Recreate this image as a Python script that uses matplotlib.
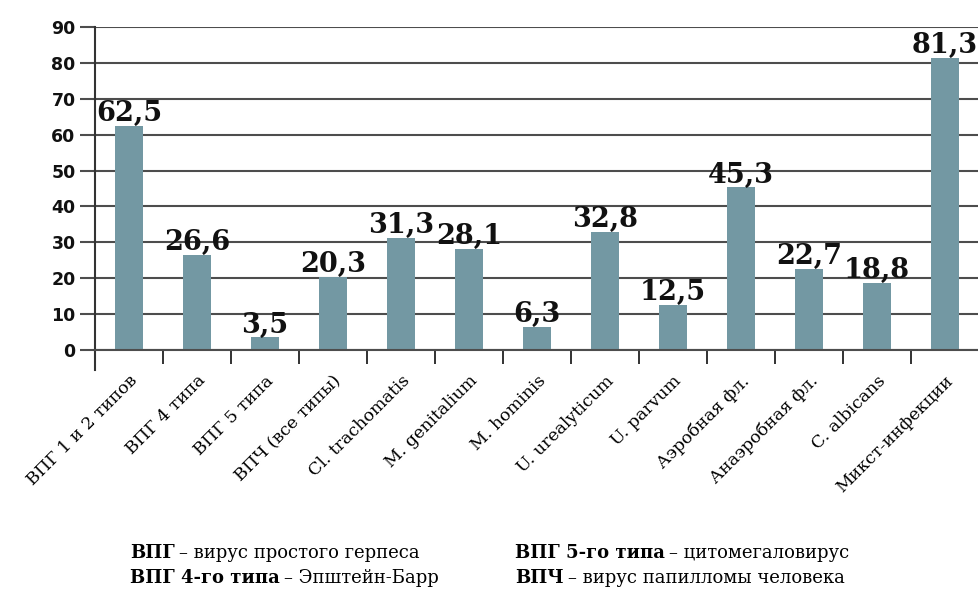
import matplotlib
matplotlib.use("Agg")
import matplotlib.pyplot as plt
import numpy as np

categories = ["ВПГ 1 и 2 типов", "ВПГ 4 типа", "ВПГ 5 типа", "ВПЧ (все типы)",
              "Cl. trachomatis", "M. genitalium", "M. hominis", "U. urealyticum",
              "U. parvum", "Аэробная фл.", "Анаэробная фл.", "C. albicans",
              "Микст-инфекции"]
values = [62.5, 26.6, 3.5, 20.3, 31.3, 28.1, 6.3, 32.8, 12.5, 45.3, 22.7, 18.8, 81.3]
yticks = [0, 10, 20, 30, 40, 50, 60, 70, 80, 90]
footnotes = [
    ("ВПГ", "– вирус простого герпеса"),
    ("ВПГ 4-го типа", "– Эпштейн-Барр"),
    ("ВПГ 5-го типа", "– цитомегаловирус"),
    ("ВПЧ", "– вирус папилломы человека"),
]

fig = plt.figure(figsize=(9.79, 5.92), dpi=100)
ax = fig.add_axes([95/979, 1-350/592, 1-95/979, (350-27)/592])

x = np.arange(len(categories))
bar_color = "#7398a3"
grid_color = "#4d4d4d"
ax.bar(x, values, width=0.41, color=bar_color, zorder=3)

for xi, v in zip(x, values):
    ax.text(xi, v - 0.3, f"{v:.1f}".replace(".", ","), ha="center", va="bottom",
            family="DejaVu Serif", fontweight="bold", fontsize=19.5, color="#111111",
            zorder=4, clip_on=False)

ax.set_xlim(-0.5, len(categories) - 0.5)
ax.set_ylim(0, 90)
ax.set_yticks(yticks)
ax.set_yticklabels([str(t) for t in yticks], family="DejaVu Sans", fontweight="bold",
                   fontsize=12.5, color="#111111")
ax.yaxis.grid(True, color=grid_color, linewidth=1.5, zorder=0)
ax.tick_params(axis="y", length=11, width=1.5, color=grid_color, pad=3)

ax.set_xticks(x)
ax.set_xticklabels(categories, rotation=45, ha="right", rotation_mode="anchor",
                   family="DejaVu Serif", fontsize=12.5)
ax.tick_params(axis="x", which="major", length=0, pad=16)
ax.set_xticks(x[:-1] + 0.5, minor=True)
ax.tick_params(axis="x", which="minor", length=10, width=1.3, color="#222222",
               direction="out")

for s in ["top", "right"]:
    ax.spines[s].set_visible(False)
ax.spines["bottom"].set_color(grid_color)
ax.spines["bottom"].set_linewidth(1.5)
ax.spines["bottom"].set_zorder(5)
ax.spines["left"].set_color("#333333")
ax.spines["left"].set_linewidth(1.5)
ax.plot([0, 0], [0, -20/323], transform=ax.transAxes, clip_on=False,
        color="#333333", linewidth=1.5)

positions = [(130, 558), (130, 583), (515, 558), (515, 583)]
for (bold, rest), (px, py) in zip(footnotes, positions):
    t = fig.text(px/979, 1-py/592, bold, family="DejaVu Serif",
                 fontweight="bold", fontsize=13, va="baseline", ha="left")
    ax.annotate(rest, xy=(1, 0), xycoords=t, xytext=(3, 0),
                textcoords="offset points", va="bottom", ha="left",
                family="DejaVu Serif", fontsize=13, annotation_clip=False)

fig.savefig("out.png", dpi=100)
